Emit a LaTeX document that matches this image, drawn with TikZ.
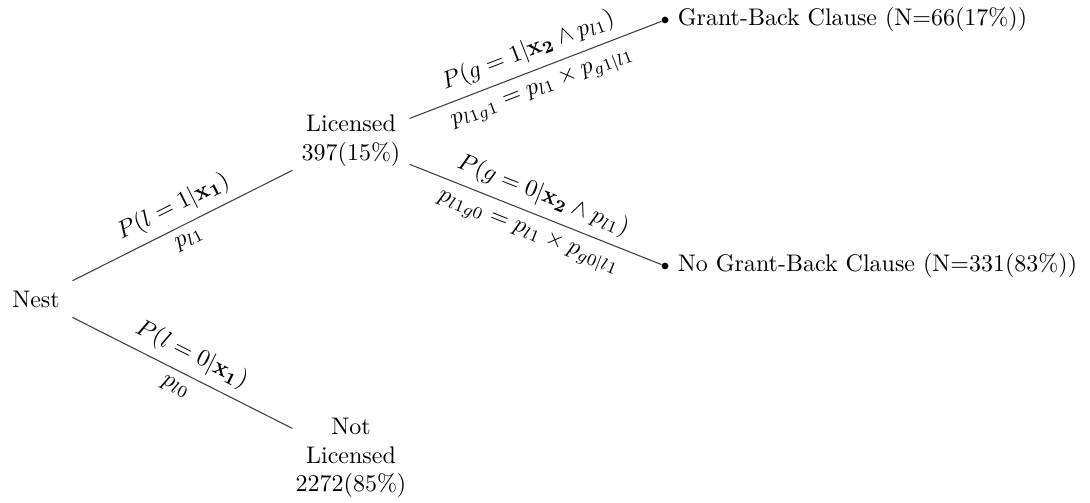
\documentclass[tikz,border=0pt]{standalone}
\begin{document}
\begin{tikzpicture}[x=0.41667pt,y=-0.41667pt,
  edge/.style={draw=black!75, line width=0.45pt},
  inode/.style={align=center, minimum width=48.4pt},
  leaf/.style={circle, fill=black, inner sep=0pt, minimum size=2.8pt},
  leaflabel/.style={label distance=0.2pt}]
\useasboundingbox (0,0) rectangle (1090,503);
\node[minimum width=30pt, minimum height=16pt] (nest) at (36,299) {Nest};
\node[inode] (lic) at (351,141) {Licensed\\397(15\%)};
\node[inode, inner xsep=1pt] (not) at (351,458) {Not\\Licensed\\2272(85\%)};
\node[leaf, label={[leaflabel]right:Grant-Back Clause (N=66(17\%))}] (gb) at (665,20) {};
\node[leaf, label={[leaflabel]right:No Grant-Back Clause (N=331(83\%))}] (ngb) at (665,266) {};
\draw[edge] (nest) -- node[above,sloped]{$P(l=1|\mathbf{x_1})$} node[below,sloped]{$p_{l1}$} (lic);
\draw[edge] (nest) -- node[above,sloped]{$P(l=0|\mathbf{x_1})$} node[below,sloped]{$p_{l0}$} (not);
\draw[edge] (lic) -- node[above,sloped]{$P(g=1|\mathbf{x_2}\wedge p_{l1})$} node[below,sloped]{$p_{l1g1}=p_{l1}\times p_{g1|l1}$} (gb);
\draw[edge] (lic) -- node[above,sloped]{$P(g=0|\mathbf{x_2}\wedge p_{l1})$} node[below,sloped]{$p_{l1g0}=p_{l1}\times p_{g0|l1}$} (ngb);
\end{tikzpicture}
\end{document}
